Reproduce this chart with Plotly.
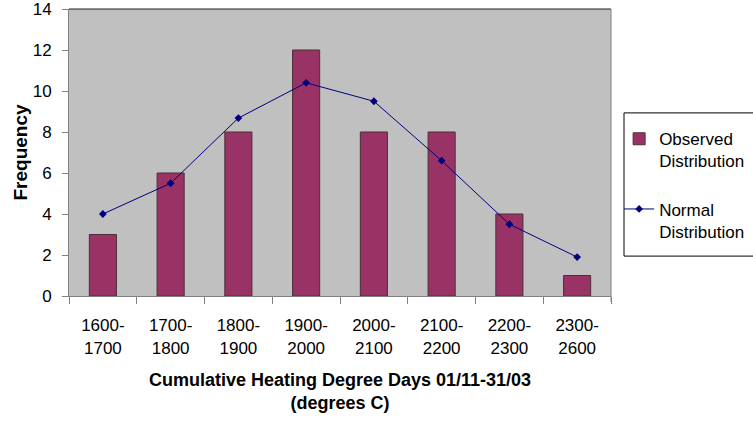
import plotly.graph_objects as go

# Heating degree day bins (two-line tick labels)
bins = ["1600-<br>1700", "1700-<br>1800", "1800-<br>1900", "1900-<br>2000",
        "2000-<br>2100", "2100-<br>2200", "2200-<br>2300", "2300-<br>2600"]
observed = [3, 6, 8, 12, 8, 8, 4, 1]
normal = [4.0, 5.5, 8.68, 10.4, 9.5, 6.6, 3.5, 1.9]
y_ticks = [0, 2, 4, 6, 8, 10, 12, 14]

FONT = "Liberation Sans, Arial, sans-serif"

fig = go.Figure()
fig.add_trace(go.Bar(
    x=bins, y=observed, name="Observed<br>Distribution",
    marker=dict(color="#993366", line=dict(color="#4a3035", width=1)),
    width=0.4, legendgroup="obs",
))
fig.add_trace(go.Scatter(
    x=bins, y=normal, name="Normal<br>Distribution", mode="lines+markers",
    line=dict(color="#000080", width=1),
    marker=dict(symbol="diamond", size=6, color="#000080"),
    legendgroup="norm",
))

fig.update_layout(
    width=753, height=423,
    margin=dict(l=69, r=142, t=9, b=127, autoexpand=False),
    paper_bgcolor="white",
    plot_bgcolor="#c0c0c0",
    font=dict(family=FONT, size=17, color="black"),
    legend=dict(
        x=1.015, xanchor="left", y=0.609, yanchor="top",
        borderwidth=0, bgcolor="rgba(0,0,0,0)", valign="top",
        font=dict(size=17), tracegroupgap=23, traceorder="grouped",
    ),
    xaxis=dict(
        type="category", tickson="boundaries", ticks="outside", ticklen=7,
        tickcolor="#808080", showline=True, linecolor="#808080", linewidth=1,
        showgrid=False, ticklabelstandoff=14,
        title=dict(text="<b>Cumulative Heating Degree Days 01/11-31/03<br>(degrees C)</b>",
                   font=dict(size=18), standoff=16),
    ),
    yaxis=dict(
        range=[0, 14], tickvals=y_ticks, ticks="outside", ticklen=6,
        tickcolor="#808080", showline=True, linecolor="#808080", linewidth=1,
        showgrid=False, zeroline=False, ticklabelstandoff=7,
        ticklabeloverflow="allow",
        title=dict(text="<b>Frequency</b>", font=dict(size=19), standoff=0),
    ),
)

# Dark frame along the top of the plot area, grey edge on the right
fig.add_shape(type="line", xref="paper", yref="paper", x0=0, x1=1, y0=1, y1=1,
              line=dict(color="#202020", width=1))
fig.add_shape(type="line", xref="paper", yref="paper", x0=1, x1=1, y0=-0.02, y1=1,
              line=dict(color="#808080", width=1))
# Legend frame (runs past the right edge of the page)
fig.add_shape(type="rect", xref="paper", yref="paper", x0=1.024, x1=1.4,
              y0=0.139, y1=0.638, line=dict(color="black", width=1),
              fillcolor="white", layer="below")

fig.write_html("out.html")
